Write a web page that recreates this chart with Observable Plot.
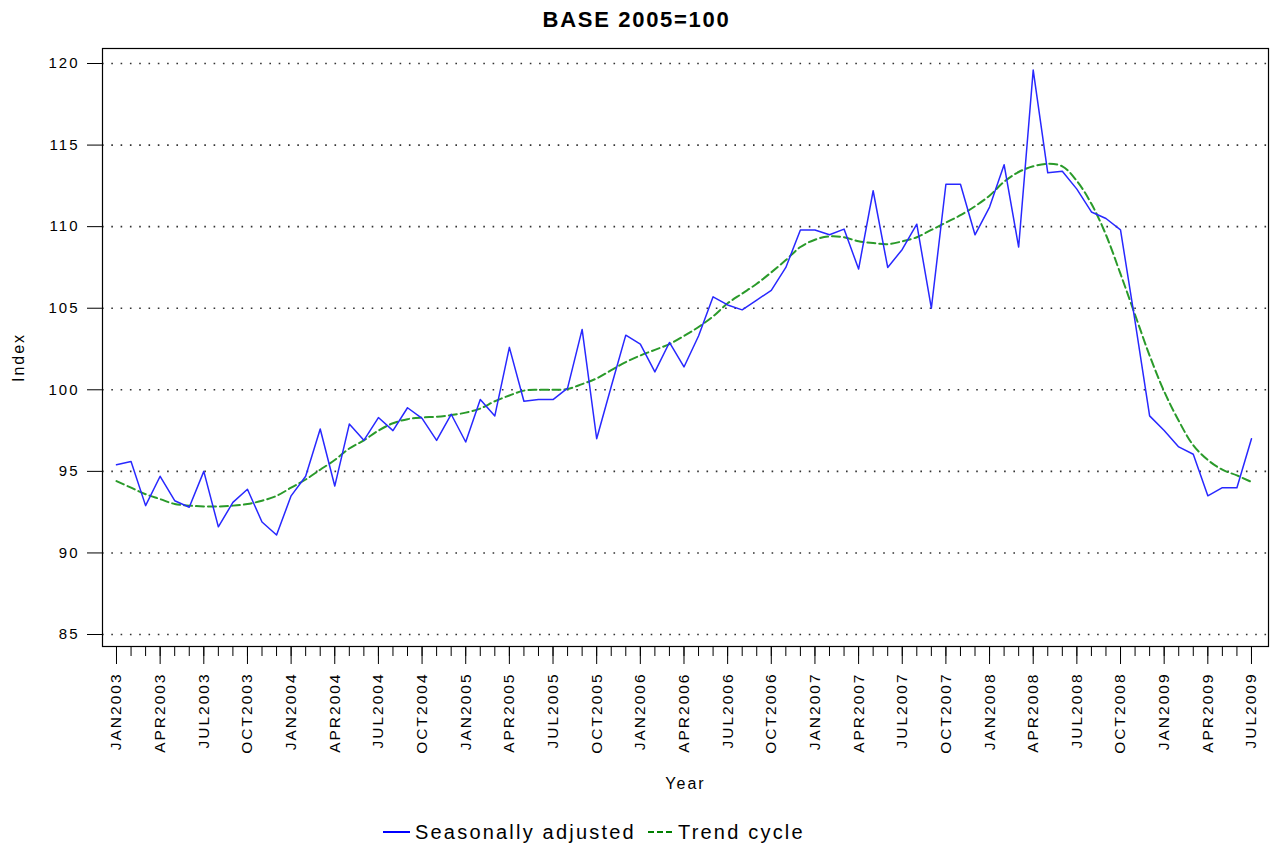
<!DOCTYPE html>
<html><head><meta charset="utf-8">
<script src="https://cdn.jsdelivr.net/npm/d3@7"></script>
<script src="https://cdn.jsdelivr.net/npm/@observablehq/plot@0.6"></script>
<style>
body{margin:0;background:#fff;font-family:"Liberation Sans",Arial,sans-serif;color:#000;}
#wrap{position:relative;width:1273px;height:848px;overflow:hidden;}
#title{position:absolute;top:0;left:0;width:1273px;height:40px;line-height:40px;text-align:center;font-weight:bold;font-size:22px;letter-spacing:1.7px;}
#chart{position:absolute;top:40px;left:0;}
.lg{position:absolute;top:818px;height:28px;line-height:28px;font-size:20px;letter-spacing:2.2px;white-space:nowrap;}
</style>
</head><body>
<div id="wrap">
<div id="title">BASE 2005=100</div>
<div id="chart"></div>
<div class="lg" style="left:383px;width:27px;"><div style="margin-top:13px;border-top:2px solid #0000ff;width:27px;"></div></div>
<div class="lg" style="left:415px;">Seasonally adjusted</div>
<div class="lg" style="left:648px;width:24px;"><div style="margin-top:13px;border-top:2px dashed #008000;width:24px;"></div></div>
<div class="lg" style="left:678px;">Trend cycle</div>
</div>
<script>
const monthNames = ["JAN","FEB","MAR","APR","MAY","JUN","JUL","AUG","SEP","OCT","NOV","DEC"];
const startYear = 2003;
const yTicks = [85, 90, 95, 100, 105, 110, 115, 120];

const seasonallyAdjusted = [
  95.4, 95.6, 92.9, 94.7, 93.2, 92.8, 95.0, 91.6, 93.1, 93.9, 91.9, 91.1,
  93.5, 94.7, 97.6, 94.1, 97.9, 96.9, 98.3, 97.5, 98.9, 98.25, 96.9, 98.5,
  96.8, 99.4, 98.4, 102.6, 99.3, 99.4, 99.4, 100.1, 103.7, 97.0, 100.2, 103.35,
  102.8, 101.1, 102.9, 101.4, 103.3, 105.7, 105.2, 104.9, 105.5, 106.1, 107.5, 109.8,
  109.8, 109.5, 109.85, 107.4, 112.2, 107.5, 108.6, 110.15, 105.0, 112.6, 112.6, 109.5,
  111.2, 113.8, 108.75, 119.6, 113.3, 113.4, 112.3, 110.9, 110.5, 109.8, 104.2, 98.4,
  97.5, 96.5, 96.05, 93.5, 94.0, 94.0, 97.0
];

const trendCycle = [
  94.4, 94.0, 93.6, 93.3, 93.0, 92.9, 92.85, 92.85, 92.9, 93.0, 93.2, 93.5,
  94.0, 94.5, 95.1, 95.7, 96.4, 96.9, 97.5, 97.95, 98.2, 98.3, 98.35, 98.45,
  98.6, 98.85, 99.3, 99.65, 99.95, 100.0, 100.0, 100.05, 100.35, 100.7, 101.2, 101.7,
  102.1, 102.45, 102.8, 103.3, 103.85, 104.5, 105.3, 105.9, 106.5, 107.2, 107.95, 108.75,
  109.2, 109.4, 109.35, 109.1, 109.0, 108.93, 109.1, 109.35, 109.8, 110.25, 110.7, 111.25,
  111.9, 112.75, 113.35, 113.7, 113.85, 113.7, 112.8, 111.4, 109.5, 107.1, 104.6, 102.1,
  99.9, 98.1, 96.6, 95.7, 95.1, 94.75, 94.35
];

const idx = d3.range(seasonallyAdjusted.length);
const data = idx.map(i => ({i, sa: seasonallyAdjusted[i], tc: trendCycle[i]}));
const monthLabel = i => monthNames[i % 12] + (startYear + Math.floor(i / 12));
const majorTicks = idx.filter(i => i % 3 === 0);

const chart = Plot.plot({
  width: 1273,
  height: 770,
  marginLeft: 102,
  marginRight: 5,
  marginTop: 8,
  marginBottom: 164,
  x: {domain: [-0.962, 79.17]},
  y: {domain: [84.265, 120.92]},
  style: {fontFamily: "'Liberation Sans', Arial, sans-serif", fontSize: "15px", letterSpacing: "2px", color: "#000", background: "#fff", overflow: "visible"},
  marks: [
    Plot.ruleY(yTicks, {stroke: "#333", strokeWidth: 1.6, strokeDasharray: "1.6,7.7"}),
    Plot.frame({stroke: "#000", strokeWidth: 1.2}),
    Plot.axisY({ticks: yTicks, tickSize: 15, tickPadding: 8, label: null, stroke: "#000"}),
    Plot.axisX({ticks: idx, tickSize: 10, tickFormat: () => "", label: null}),
    Plot.axisX({ticks: majorTicks, tickSize: 18, tickPadding: 8, tickRotate: -90, tickFormat: monthLabel, label: null, fontSize: 15.5}),
    Plot.line(data, {x: "i", y: "tc", stroke: "#2a9a2a", strokeWidth: 2, strokeDasharray: "8,4", curve: "catmull-rom"}),
    Plot.line(data, {x: "i", y: "sa", stroke: "#2828ff", strokeWidth: 1.5}),
    Plot.text(["Year"], {frameAnchor: "bottom", lineAnchor: "middle", textAnchor: "middle", dy: 137, fontSize: 16}),
    Plot.text(["Index"], {frameAnchor: "left", textAnchor: "middle", rotate: -90, dx: -84, dy: 10, fontSize: 16})
  ]
});
document.getElementById("chart").appendChild(chart);
</script>
</body></html>
